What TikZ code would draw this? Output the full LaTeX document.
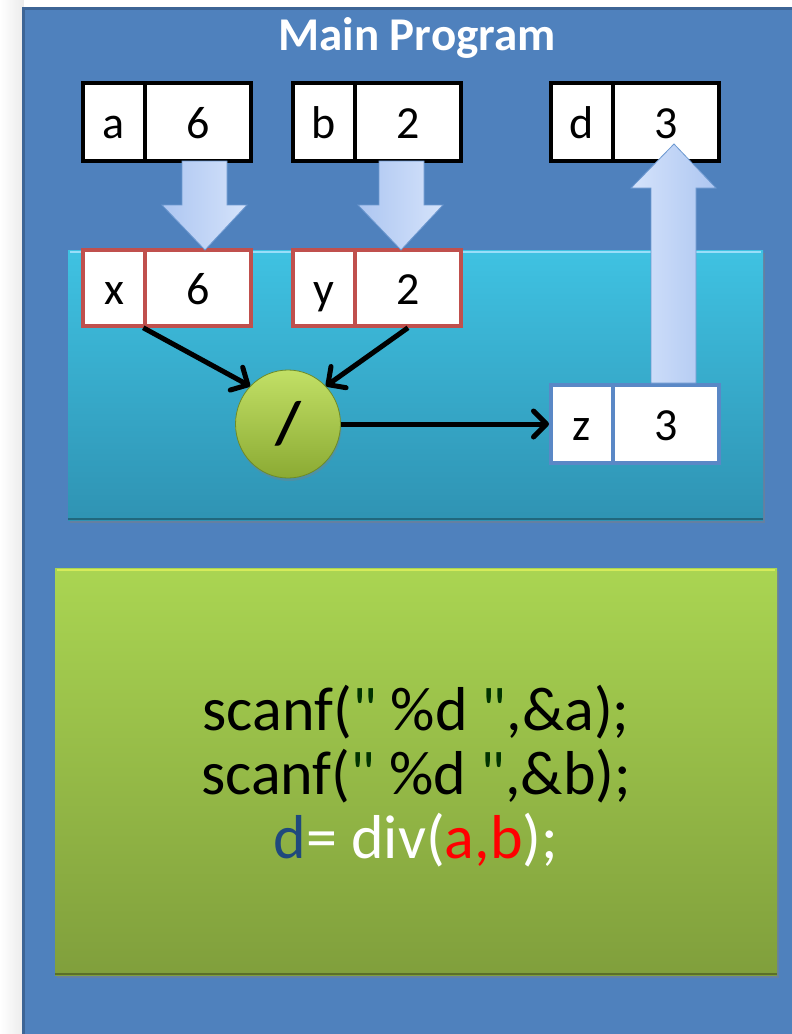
\documentclass[tikz,border=0pt]{standalone}
\usepackage{fontspec}
\setmainfont{Carlito}
\newfontfamily\codefont{Carlito}
\usetikzlibrary{shadows,arrows.meta,shapes.geometric}
\definecolor{mainblue}{HTML}{4F81BD}
\definecolor{mainblueedge}{HTML}{3D6596}
\definecolor{cyantop}{HTML}{3FC2E2}
\definecolor{cyanbot}{HTML}{2F93B3}
\definecolor{greentop}{HTML}{AAD552}
\definecolor{greenbot}{HTML}{809F3C}
\definecolor{rededge}{HTML}{C0504D}
\definecolor{zedge}{HTML}{5A88C6}
\definecolor{arrowlight}{HTML}{D5E3FB}
\definecolor{arrowdark}{HTML}{ADC6F1}
\definecolor{arrowedge}{HTML}{6C98D0}
\definecolor{ballin}{HTML}{C2E066}
\definecolor{ballout}{HTML}{8BAA33}
\definecolor{balledge}{HTML}{6E8B28}
\definecolor{dvar}{HTML}{1F497D}
\definecolor{quotegreen}{HTML}{003300}
\begin{document}
\begin{tikzpicture}[x=1pt,y=-1pt,
  cell/.style={draw, fill=white, line width=4.2pt, inner sep=0pt, minimum height=78pt,
     text height=34pt, text depth=2pt, font=\fontsize{46}{50}\selectfont},
  namecell/.style={cell, minimum width=62pt},
  valcell/.style={cell, minimum width=106pt},
  blackcell/.style={draw=black},
  redcell/.style={draw=rededge, line width=3.5pt, minimum height=76pt},
  zcell/.style={draw=zedge, line width=4pt},
  blockarrow/.style={draw=arrowedge, line width=0.8pt, line join=miter},
  link/.style={draw=black, line width=5pt, -{Straight Barb[length=13pt,width=26pt,line width=5pt,round]}},
]
\useasboundingbox (0,0) rectangle (792,1034);
% page background
\shade[left color=white, right color=black!8] (0,0) rectangle (24,1034);
\fill[white] (24,0) rectangle (792,7);
% main program frame
\filldraw[fill=mainblue, draw=mainblueedge, line width=3pt] (23,8) rectangle (800,1040);
\node[text=white, font=\bfseries\fontsize{47}{50}\selectfont] (title) at (417,38) {Main Program};

% function frame (cyan)
\shade[top color=cyantop, bottom color=cyanbot, drop shadow={opacity=0.45, shadow xshift=2pt, shadow yshift=-3pt}]
  (68,250) rectangle (763,520);
\draw[cyan!40!white, line width=2pt] (70,252) -- (761,252);
\draw[black!30!cyanbot, line width=1.5pt] (68,519) -- (763,519);

% code frame (green)
\shade[top color=greentop, bottom color=greenbot, drop shadow={opacity=0.45, shadow xshift=2pt, shadow yshift=-3pt}]
  (55,568) rectangle (777,975);
\draw[greentop!60!yellow!80!white, line width=2.5pt] (57,570) -- (775,570);
\draw[greenbot!70!black, line width=1.5pt] (55,974) -- (777,974);

% variables of main
\node[namecell, blackcell] (aN) at (114,122) {a};
\node[valcell, blackcell]  (aV) at (198,122) {6};
\node[namecell, blackcell] (bN) at (324,122) {b};
\node[valcell, blackcell]  (bV) at (408,122) {2};
\node[namecell, blackcell] (dN) at (582,122) {d};
\node[valcell, blackcell]  (dV) at (666,122) {3};

% parameters
\node[namecell, redcell] (xN) at (114,288) {x};
\node[valcell, redcell]  (xV) at (198,288) {6};
\node[namecell, redcell] (yN) at (324,288) {y};
\node[valcell, redcell]  (yV) at (408,288) {2};

% result
\node[namecell, zcell] (zN) at (582,424) {z};
\node[valcell, zcell]  (zV) at (666,424) {3};

% operator
\node[ellipse, minimum width=105pt, minimum height=108pt, inner sep=0pt,
      top color=ballin, bottom color=ballout, draw=balledge, line width=0.8pt,
      drop shadow={opacity=0.35, shadow xshift=1pt, shadow yshift=-3pt},
      font=\bfseries\fontsize{60}{62}\selectfont] (op) at (288,424) {/};

% block arrows
\shadedraw[blockarrow, left color=arrowdark, right color=arrowlight]
  (182,161) -- (182,205) -- (162,205) -- (205,250) -- (247,205) -- (227,205) -- (227,161) -- cycle;
\shadedraw[blockarrow, left color=arrowdark, right color=arrowlight]
  (379,161) -- (379,205) -- (358,205) -- (401,250) -- (443,205) -- (424,205) -- (424,161) -- cycle;
\shadedraw[blockarrow, left color=arrowlight, right color=arrowdark]
  (651,383) -- (651,188) -- (631,188) -- (674,144) -- (716,188) -- (696,188) -- (696,383) -- cycle;

% connectors
\draw[link] (xV.south west) -- (op.135);
\draw[link] (yV.south) -- (op.45);
\draw[link] (op.east) -- (zN.west);

% code
\node[align=center, font=\codefont\fontsize{62}{64}\selectfont] (code) at (416,776)
  {scanf(\textcolor{quotegreen}{"} \%d \textcolor{quotegreen}{"},\&a);\\
   scanf(\textcolor{quotegreen}{"} \%d \textcolor{quotegreen}{"},\&b);\\
   \textcolor{dvar}{d}\textcolor{white}{= div(}\textcolor{red}{a,b}\textcolor{white}{);}};
\end{tikzpicture}
\end{document}
